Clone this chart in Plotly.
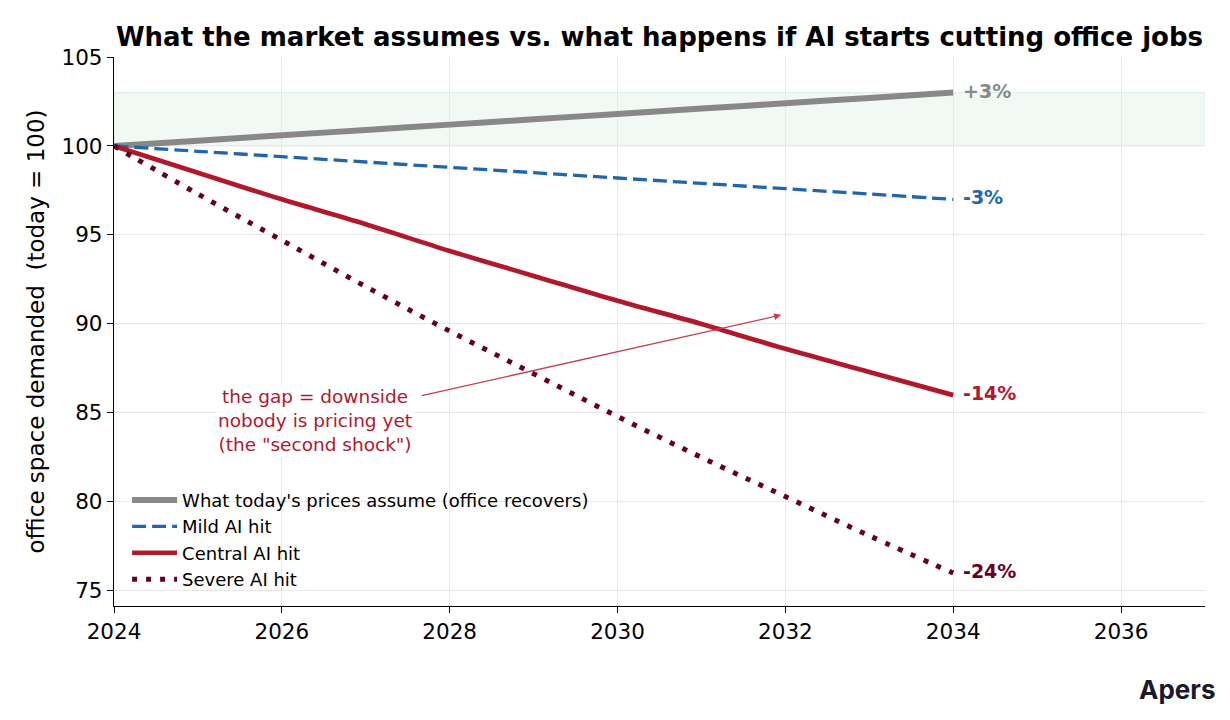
import plotly.graph_objects as go

years = [2024, 2025, 2026, 2027, 2028, 2029, 2030, 2031, 2032, 2033, 2034]
baseline = [100, 100.3, 100.6, 100.9, 101.2, 101.5, 101.8, 102.1, 102.4, 102.7, 103.0]
mild = [100, 99.7, 99.4, 99.1, 98.8, 98.5, 98.2, 97.9, 97.6, 97.3, 97.0]
central = [100, 98.5, 97.0, 95.6, 94.1, 92.7, 91.3, 90.0, 88.6, 87.3, 86.0]
severe = [100, 97.3, 94.7, 92.1, 89.6, 87.2, 84.8, 82.5, 80.3, 78.1, 76.0]

names = ["What today's prices assume (office recovers)", "Mild AI hit", "Central AI hit", "Severe AI hit"]
end_labels = ["+3%", "-3%", "-14%", "-24%"]
colors = ["#888888", "#2166ac", "#b2182b", "#67001f"]
dashes = ["solid", "14px,6px", "solid", "5px,9px"]
widths = [6, 3.3, 4.7, 5]
series = [baseline, mild, central, severe]

FONT = "DejaVu Sans"
fig = go.Figure()

fig.add_shape(type="rect", x0=2024, x1=2037, y0=100, y1=103, xref="x", yref="y",
              fillcolor="rgba(215,232,220,0.32)", line=dict(color="rgba(190,210,195,0.35)", width=1),
              layer="below")

for s, n, c, d, w in zip(series, names, colors, dashes, widths):
    fig.add_trace(go.Scatter(x=years, y=s, mode="lines", name=n,
                             line=dict(color=c, dash=d, width=w, shape="spline", smoothing=1)))

for s, lab, c in zip(series, end_labels, colors):
    fig.add_annotation(x=years[-1], y=s[-1], text="<b>" + lab + "</b>", showarrow=False,
                       xanchor="left", yanchor="middle", xshift=8, yshift=2,
                       font=dict(family=FONT, size=19, color=c))

fig.add_annotation(x=2031.95, y=90.5, ax=2027.65, ay=85.95, xref="x", yref="y", axref="x", ayref="y",
                   showarrow=True, arrowhead=2, arrowsize=1, arrowwidth=1.4, arrowcolor="#c0404f", text="")
fig.add_annotation(x=2026.4, y=84.6, xref="x", yref="y", showarrow=False,
                   text="the gap = downside<br>nobody is pricing yet<br>(the \"second shock\")",
                   font=dict(family=FONT, size=18.5, color="#b2182b"), align="center",
                   bgcolor="rgba(255,255,255,0.8)")

fig.add_annotation(x=1.0, y=0, xref="paper", yref="paper", yshift=-83, xshift=12,
                   text="<b>Apers</b>", showarrow=False, xanchor="right", yanchor="middle",
                   font=dict(family="Inter", size=26, color="#1a1a2e"))

fig.update_layout(
    width=1230, height=720,
    margin=dict(l=114, r=25, t=57, b=114),
    paper_bgcolor="white", plot_bgcolor="white",
    title=dict(text="<b>What the market assumes vs. what happens if AI starts cutting office jobs</b>",
               x=0.5, xanchor="center", y=0.949, yanchor="middle", xref="paper",
               font=dict(family=FONT, size=26, color="black")),
    font=dict(family=FONT, size=21.5, color="black"),
    legend=dict(x=0.012, y=0.015, xanchor="left", yanchor="bottom", bgcolor="rgba(255,255,255,0)",
                font=dict(family=FONT, size=18, color="black"), itemwidth=45, tracegroupgap=0),
    showlegend=True,
)
fig.update_xaxes(range=[2024, 2037], tickvals=[2024, 2026, 2028, 2030, 2032, 2034, 2036],
                 showgrid=True, gridcolor="#e8e8e8", gridwidth=1, showline=True, linecolor="black",
                 linewidth=1.3, ticks="outside", ticklen=6, tickcolor="black", zeroline=False,
                 tickfont=dict(family=FONT, size=21.5))
fig.update_yaxes(range=[74.15, 105], tickvals=[75, 80, 85, 90, 95, 100, 105],
                 showgrid=True, gridcolor="#e8e8e8", gridwidth=1, showline=True, linecolor="black",
                 linewidth=1.3, ticks="outside", ticklen=6, tickcolor="black", zeroline=False,
                 title=dict(text="office space demanded  (today = 100)", standoff=10,
                            font=dict(family=FONT, size=23)),
                 tickfont=dict(family=FONT, size=21.5))

fig.write_html("out.html", config={"displayModeBar": False},
               post_script="document.body.style.margin='0';")
